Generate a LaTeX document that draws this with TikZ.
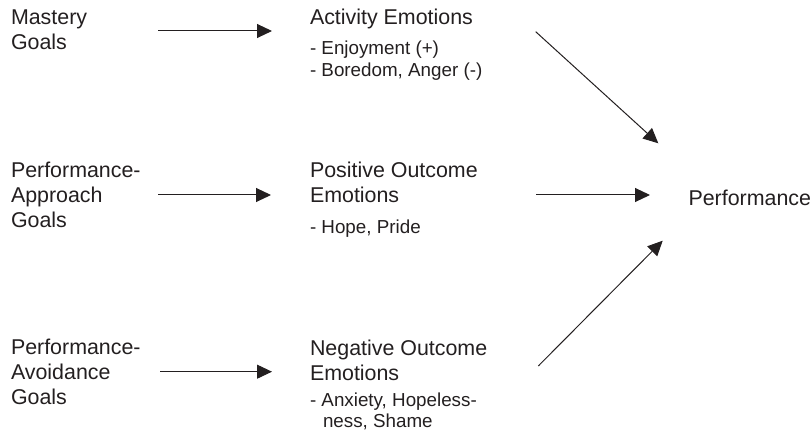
\documentclass[tikz,border=0pt]{standalone}
\usepackage{fontspec}
\setmainfont{Liberation Sans}
\usetikzlibrary{arrows.meta}
\definecolor{ink}{RGB}{35,31,32}
\begin{document}
\begin{tikzpicture}[x=1pt,y=-1pt,
  every node/.style={inner sep=0pt,outer sep=0pt,anchor=north west,align=left,text=ink},
  mainlabel/.style={font=\fontsize{21.4}{24.9}\selectfont},
  sublabel/.style={font=\fontsize{18.8}{21.2}\selectfont},
  link/.style={draw=ink,line width=1pt,-{Triangle[length=15pt,width=14pt]}}]
\useasboundingbox (0,0) rectangle (812,438);

% goals (left column); first baseline sits 17pt below each node's top
\node[mainlabel] (mastery) at (11,7.5) {\rule{0pt}{17pt}Mastery\\Goals};
\node[mainlabel] (approach) at (11,160.5) {\rule{0pt}{17pt}Performance-\\Approach\\Goals};
\node[mainlabel] (avoid) at (11,337.5) {\rule{0pt}{17pt}Performance-\\Avoidance\\Goals};

% emotions (middle column); sub-item baselines sit 15pt below the node top
\node[mainlabel] (activity) at (310,8) {\rule{0pt}{17pt}Activity Emotions};
\node[sublabel] (activitylist) at (310,40) {\rule{0pt}{15pt}- Enjoyment (+)\\- Boredom, Anger (-)};
\node[mainlabel] (positive) at (310,160.7) {\rule{0pt}{17pt}Positive Outcome\\Emotions};
\node[sublabel] (positivelist) at (310,218.3) {\rule{0pt}{15pt}- Hope, Pride};
\node[mainlabel] (negative) at (310,338.5) {\rule{0pt}{17pt}Negative Outcome\\Emotions};
\node[sublabel] (negativelist) at (310,391.6) {\rule{0pt}{15pt}- Anxiety, Hopeless-\\\hspace*{13pt}ness, Shame};

% outcome (right column)
\node[mainlabel] (performance) at (688.5,189) {\rule{0pt}{17pt}Performance};

% arrow end points
\coordinate (m1) at (158,31);     \coordinate (a1) at (272,31);
\coordinate (m2) at (158,195);    \coordinate (a2) at (271,195);
\coordinate (m3) at (160,371.7);  \coordinate (a3) at (272,371.7);
\coordinate (e1) at (535.7,31.7); \coordinate (p1) at (658.3,143.3);
\coordinate (e2) at (536,195);    \coordinate (p2) at (650,195);
\coordinate (e3) at (538.3,366);  \coordinate (p3) at (662.7,240.7);

\draw[link] (m1) -- (a1);
\draw[link] (m2) -- (a2);
\draw[link] (m3) -- (a3);
\draw[link] (e1) -- (p1);
\draw[link] (e2) -- (p2);
\draw[link] (e3) -- (p3);
\end{tikzpicture}
\end{document}
